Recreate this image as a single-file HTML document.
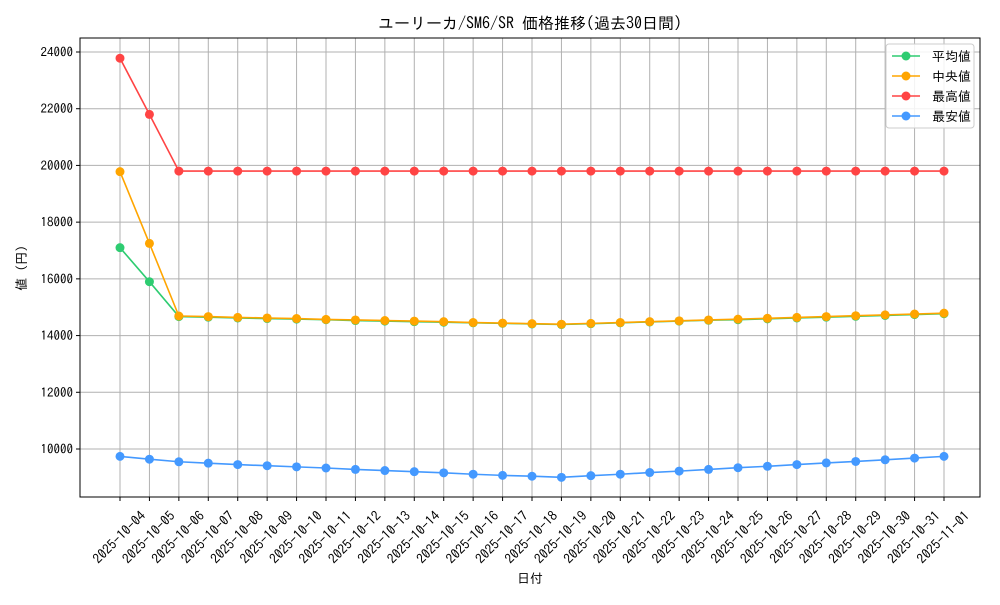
<!DOCTYPE html>
<html><head><meta charset="utf-8"><style>
body{margin:0;background:#fff}
svg text{font-family:"IPAGothic","Noto Sans CJK JP",sans-serif;fill:#000}
</style></head><body>
<svg id="c" width="1000" height="600" xmlns="http://www.w3.org/2000/svg"></svg>
<script>
const dates=["2025-10-04","2025-10-05","2025-10-06","2025-10-07","2025-10-08","2025-10-09","2025-10-10","2025-10-11","2025-10-12","2025-10-13","2025-10-14","2025-10-15","2025-10-16","2025-10-17","2025-10-18","2025-10-19","2025-10-20","2025-10-21","2025-10-22","2025-10-23","2025-10-24","2025-10-25","2025-10-26","2025-10-27","2025-10-28","2025-10-29","2025-10-30","2025-10-31","2025-11-01"];
const meanVals=[17100,15900,14670,14650,14620,14600,14580,14560,14530,14510,14490,14470,14450,14430,14410,14390,14420,14450,14480,14510,14540,14560,14590,14620,14650,14680,14710,14740,14770];
const medianVals=[19780,17250,14690,14670,14640,14620,14600,14570,14550,14530,14510,14490,14460,14440,14420,14400,14430,14460,14490,14520,14550,14580,14610,14640,14670,14700,14730,14760,14790];
const maxVals=[23780,21800,19800,19800,19800,19800,19800,19800,19800,19800,19800,19800,19800,19800,19800,19800,19800,19800,19800,19800,19800,19800,19800,19800,19800,19800,19800,19800,19800];
const minVals=[9740,9640,9550,9500,9450,9410,9370,9330,9280,9240,9200,9160,9110,9070,9040,9000,9060,9110,9170,9220,9280,9340,9390,9450,9510,9560,9620,9680,9740];
const yTicks=[10000,12000,14000,16000,18000,20000,22000,24000];
const series=[["平均値",meanVals,"#2ecc71"],["中央値",medianVals,"#ffa500"],["最高値",maxVals,"#ff4444"],["最安値",minVals,"#4499ff"]];
const L=80,R=980,T=38,B=497;
const x=i=>120+i*(944-120)/(dates.length-1);
const y=v=>449-(v-10000)*(449-52)/14000;
const s=document.getElementById('c');const NS="http://www.w3.org/2000/svg";
function mk(t,a,p){const e=document.createElementNS(NS,t);for(const k in a)e.setAttribute(k,a[k]);(p||s).appendChild(e);return e;}
dates.forEach((d,i)=>{
 const g=mk('line',{x1:x(i),x2:x(i),y1:T,y2:B,stroke:'#b0b0b0','stroke-width':1});
 
 
 mk('line',{x1:x(i),x2:x(i),y1:B,y2:B+4,stroke:'#000'});
 const cx=x(i)-1,cy=537;
 const t=mk('text',{x:cx,y:cy,'font-size':13.5,'text-anchor':'middle','dominant-baseline':'central',transform:`rotate(-45 ${cx} ${cy})`});
 t.textContent=d;
 
 
});
yTicks.forEach(v=>{
 const g=mk('line',{x1:L,x2:R,y1:y(v),y2:y(v),stroke:'#b0b0b0','stroke-width':1});
 
 
 mk('line',{x1:L-4,x2:L,y1:y(v),y2:y(v),stroke:'#000'});
 const t=mk('text',{x:L-7,y:y(v)+4.5,'font-size':13,'text-anchor':'end'});
 t.textContent=v;
 
 
});
series.forEach(([n,vals,c])=>{
 const p=mk('polyline',{points:vals.map((v,i)=>x(i)+','+y(v)).join(' '),fill:'none',stroke:c,'stroke-width':1.6});
 
 
 vals.forEach((v,i)=>{const m=mk('circle',{cx:x(i),cy:y(v),r:4.5,fill:c});
  
  });
});
const f=mk('rect',{x:L,y:T,width:R-L,height:B-T,fill:'none',stroke:'#000','stroke-width':1});


const ti=mk('text',{x:530,y:29,'font-size':16,'text-anchor':'middle'});ti.textContent="ユーリーカ/SM6/SR 価格推移(過去30日間)";


const xl=mk('text',{x:530,y:583,'font-size':13,'text-anchor':'middle'});xl.textContent="日付";


const yl=mk('text',{x:26,y:268,'font-size':13,'text-anchor':'middle',transform:'rotate(-90 26 268)'});yl.textContent="値 (円)";


const lg=mk('g',{});


mk('rect',{x:886,y:44,width:88,height:84,fill:'#fff','fill-opacity':0.85,stroke:'#ccc',rx:3},lg);
series.forEach(([n,vals,c],k)=>{
 const yy=56+k*20;
 mk('line',{x1:892,x2:920,y1:yy,y2:yy,stroke:c,'stroke-width':1.6},lg);
 mk('circle',{cx:906,cy:yy,r:4.5,fill:c},lg);
 const t=mk('text',{x:932,y:yy+5,'font-size':13},lg);t.textContent=n;
 
 
});
</script></body></html>
